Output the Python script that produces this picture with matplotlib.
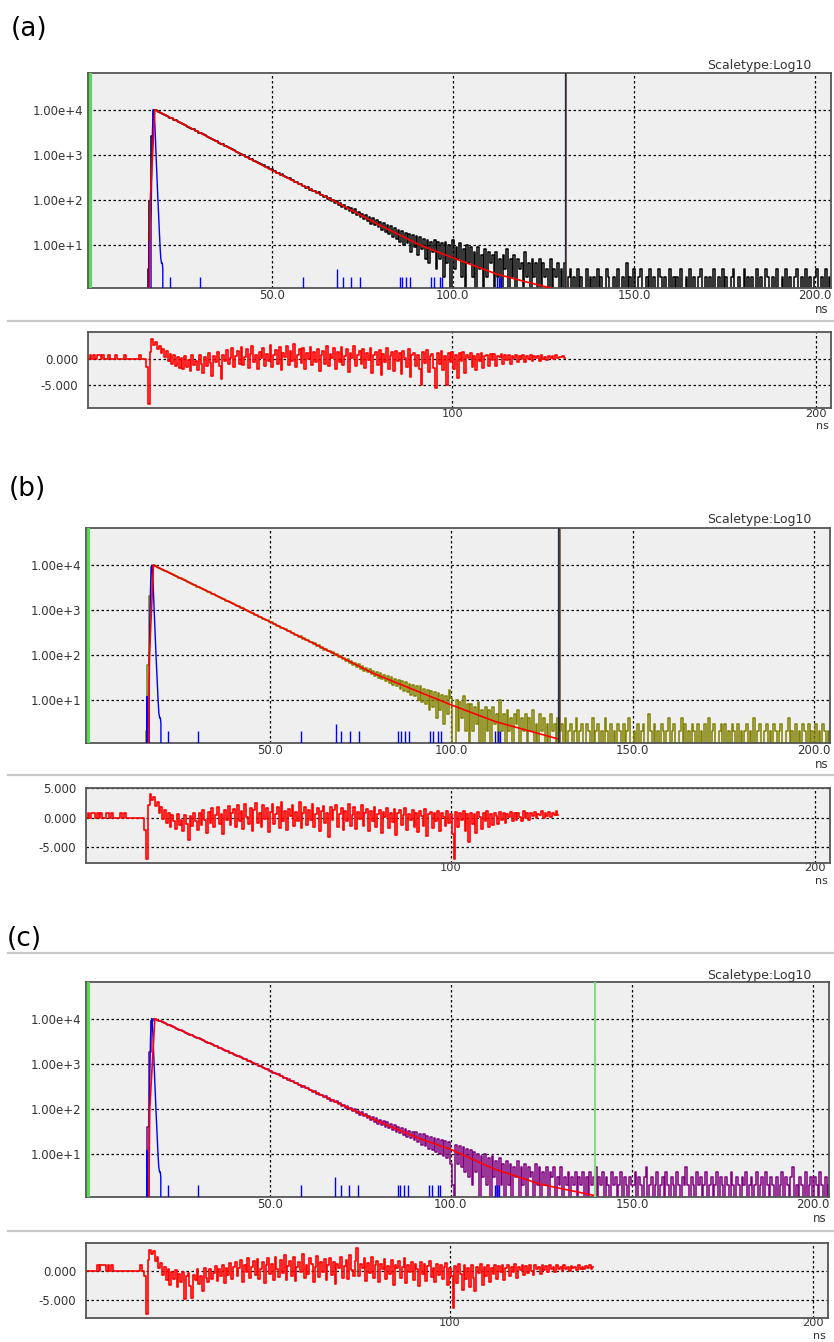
import numpy as np
import matplotlib
matplotlib.use("Agg")
from matplotlib import pyplot
from matplotlib.lines import Line2D

# ---- data ---------------------------------------------------------------
BIN = 0.5          # ns per channel of the lists below
DECAY_T0 = 15.5    # ns of the first decay channel
RESID_T0 = 0.0     # ns of the first residual channel

# decay counts, panel (a) (black)
decay_a = [
    0, 3, 95, 2600, 9700, 9810, 9290, 8850, 8500, 8120,
    7690, 7400, 6990, 6650, 6420, 6050, 5830, 5570, 5260, 5090,
    4790, 4610, 4350, 4200, 3960, 3780, 3650, 3430, 3310, 3120,
    3020, 2880, 2710, 2620, 2470, 2390, 2240, 2170, 2040, 1980,
    1850, 1770, 1720, 1610, 1560, 1490, 1400, 1360, 1270, 1240,
    1150, 1120, 1070, 990, 980, 905, 890, 830, 810, 745,
    740, 705, 650, 640, 590, 585, 540, 530, 490, 485,
    445, 440, 405, 400, 365, 368, 335, 330, 305, 300,
    276, 275, 250, 252, 228, 230, 209, 205, 188, 190,
    170, 175, 155, 158, 141, 147, 128, 131, 116, 121,
    104, 112, 95, 101, 85, 94, 78, 86, 70, 79,
    64, 71, 58, 67, 51, 62, 47, 55, 43, 50,
    37, 46, 34, 42, 29, 39, 28, 36, 25, 33,
    22, 31, 20, 28, 18, 26, 15, 24, 14, 22,
    12, 21, 10, 19, 11, 18, 7, 17, 9, 16,
    6, 15, 8, 14, 5, 13, 4, 12, 7, 13,
    3, 12, 5, 11, 2, 12, 4, 10, 1, 13,
    3, 9, 5, 11, 2, 8, 0, 10, 4, 9,
    2, 7, 1, 9, 3, 6, 0, 8, 2, 7,
    4, 6, 1, 7, 2, 5, 0, 6, 3, 8,
    1, 5, 2, 6, 0, 5, 3, 4, 1, 7,
    2, 4, 0, 5, 2, 4, 1, 5, 0, 4,
    2, 3, 1, 5, 0, 3, 2, 4, 1, 3,
    0, 4, 1, 2, 3, 0, 2, 1, 3, 0,
    2, 1, 0, 3, 1, 2, 0, 2, 1, 3,
    0, 2, 1, 0, 3, 2, 0, 1, 2, 0,
    3, 1, 0, 2, 1, 4, 0, 2, 1, 3,
    1, 0, 2, 3, 0, 1, 2, 0, 3, 1,
    2, 0, 1, 3, 2, 0, 2, 1, 0, 3,
    0, 2, 1, 2, 0, 3, 1, 0, 2, 1,
    3, 0, 2, 1, 0, 2, 3, 1, 0, 2,
    1, 2, 0, 3, 1, 0, 2, 1, 3, 0,
    2, 1, 0, 2, 3, 1, 0, 2, 1, 0,
    3, 0, 2, 1, 2, 0, 1, 3, 0, 2,
    1, 0, 3, 2, 0, 1, 2, 0, 3, 1,
    0, 2, 1, 3, 0, 2, 1, 0, 2, 3,
    1, 0, 2, 1, 3, 0, 2, 1, 0, 2,
    3, 1, 0, 2, 1, 3, 0, 2, 1,
]

# decay counts, panel (b) (olive)
decay_b = [
    0, 2, 60, 2100, 9200, 9900, 9480, 9070, 8660, 8300,
    7950, 7540, 7260, 6890, 6640, 6300, 6070, 5760, 5550, 5260,
    5080, 4800, 4640, 4390, 4250, 4010, 3880, 3670, 3550, 3350,
    3250, 3060, 2970, 2800, 2710, 2560, 2480, 2340, 2270, 2140,
    2075, 1950, 1900, 1785, 1735, 1630, 1590, 1490, 1450, 1360,
    1330, 1240, 1215, 1135, 1110, 1035, 1015, 945, 930, 860,
    850, 782, 775, 712, 706, 650, 645, 592, 590, 540,
    538, 492, 491, 448, 447, 408, 409, 372, 373, 338,
    341, 308, 311, 280, 284, 255, 259, 232, 236, 211,
    216, 193, 198, 175, 181, 160, 165, 146, 151, 132,
    138, 120, 126, 109, 116, 99, 106, 90, 97, 82,
    88, 73, 81, 66, 74, 60, 68, 55, 62, 49,
    57, 45, 52, 41, 48, 37, 45, 34, 41, 31,
    39, 29, 36, 26, 34, 24, 32, 22, 30, 20,
    28, 18, 27, 16, 25, 15, 23, 13, 22, 12,
    21, 10, 20, 9, 18, 8, 17, 6, 16, 7,
    15, 4, 14, 6, 13, 3, 12, 5, 17, 11,
    1, 0, 10, 2, 9, 4, 12, 2, 8, 0,
    8, 2, 7, 3, 9, 1, 6, 0, 7, 2,
    6, 0, 7, 3, 5, 1, 10, 2, 5, 0,
    6, 2, 4, 0, 5, 3, 6, 1, 4, 2,
    5, 0, 4, 2, 6, 1, 3, 0, 5, 2,
    4, 1, 3, 0, 5, 2, 3, 1, 4, 2,
    3, 1, 4, 0, 2, 3, 1, 2, 4, 0,
    2, 3, 0, 1, 3, 2, 0, 4, 1, 2,
    3, 0, 2, 1, 4, 2, 0, 3, 1, 2,
    0, 3, 2, 1, 3, 0, 2, 4, 1, 0,
    2, 1, 3, 0, 2, 3, 1, 0, 5, 2,
    1, 3, 0, 2, 1, 3, 2, 0, 2, 4,
    0, 2, 3, 1, 0, 2, 4, 1, 3, 0,
    2, 1, 3, 2, 0, 3, 1, 2, 0, 3,
    1, 4, 0, 2, 3, 1, 0, 2, 3, 1,
    3, 0, 2, 1, 3, 2, 0, 3, 1, 2,
    0, 2, 3, 1, 2, 0, 4, 1, 2, 3,
    1, 0, 2, 3, 1, 2, 0, 3, 2, 0,
    2, 3, 1, 0, 2, 4, 1, 2, 0, 3,
    1, 2, 0, 3, 2, 1, 3, 0, 2, 1,
    3, 0, 2, 1, 3, 2, 0, 2, 1,
]

# decay counts, panel (c) (purple)
decay_c = [
    0, 1, 40, 1800, 8700, 9900, 9820, 9430, 9060, 8690,
    8360, 7960, 7690, 7330, 7080, 6740, 6520, 6200, 6000, 5710,
    5520, 5250, 5080, 4830, 4680, 4440, 4310, 4090, 3970, 3760,
    3650, 3460, 3360, 3180, 3095, 2930, 2850, 2695, 2625, 2480,
    2420, 2280, 2225, 2095, 2050, 1930, 1890, 1775, 1740, 1630,
    1600, 1500, 1475, 1380, 1360, 1270, 1250, 1165, 1150, 1072,
    1062, 988, 975, 902, 895, 826, 820, 756, 752, 692,
    690, 634, 633, 580, 581, 531, 533, 486, 488, 445,
    448, 408, 410, 373, 377, 341, 346, 312, 317, 286,
    291, 261, 267, 239, 244, 218, 224, 199, 206, 183,
    189, 167, 174, 152, 159, 139, 147, 127, 135, 116,
    123, 106, 113, 97, 105, 88, 97, 81, 90, 74,
    83, 68, 77, 62, 71, 57, 66, 52, 61, 47,
    57, 44, 53, 40, 50, 37, 46, 34, 43, 31,
    40, 29, 38, 26, 36, 24, 33, 22, 31, 20,
    30, 18, 28, 16, 27, 15, 25, 13, 24, 12,
    22, 11, 21, 10, 20, 9, 19, 8, 18, 6,
    2, 1, 16, 6, 15, 5, 14, 4, 13, 3,
    12, 2, 11, 4, 10, 1, 9, 3, 10, 2,
    8, 1, 9, 3, 7, 0, 8, 2, 6, 1,
    7, 2, 6, 0, 5, 3, 7, 1, 5, 2,
    6, 1, 5, 3, 4, 0, 6, 2, 5, 1,
    4, 2, 5, 0, 4, 3, 5, 1, 3, 2,
    5, 1, 3, 2, 4, 0, 3, 2, 4, 1,
    3, 2, 4, 0, 3, 1, 4, 2, 3, 5,
    1, 3, 2, 4, 0, 3, 2, 1, 4, 2,
    3, 0, 2, 4, 1, 3, 2, 0, 3, 2,
    2, 4, 1, 3, 2, 0, 3, 5, 1, 2,
    3, 1, 2, 4, 0, 2, 3, 1, 4, 2,
    1, 3, 2, 0, 4, 2, 1, 3, 2, 5,
    2, 0, 3, 2, 1, 4, 2, 3, 0, 2,
    4, 1, 2, 3, 0, 2, 4, 1, 3, 2,
    0, 3, 2, 1, 4, 2, 0, 3, 2, 1,
    3, 2, 4, 0, 2, 3, 1, 2, 4, 0,
    2, 3, 1, 4, 2, 0, 3, 2, 1, 3,
    0, 2, 4, 1, 3, 2, 0, 3, 5, 1,
    2, 0, 3, 2, 1, 4, 0, 2, 3, 1,
    3, 2, 0, 4, 2, 1, 3, 0, 2,
]

# fitted curve vertices (ns, counts)
fit_a_t = [16.2, 16.5, 17.75, 30.0, 50.0, 66.9, 79.7, 91.0, 100.0, 112.0, 120.0, 128.0, 131.0]
fit_a_c = [0.5, 100, 10000, 3162, 457, 98, 28, 10, 5.25, 2.3, 1.55, 1.07, 0.95]
fit_b_t = [16.5, 16.8, 17.9, 43.5, 68.5, 78.3, 100.0, 112.2, 129.6]
fit_b_c = [0.5, 100, 10000, 1000, 100, 39.8, 7.76, 3.3, 1.35]
fit_c_t = [16.6, 16.9, 18.3, 46.0, 72.3, 80.6, 91.7, 100.0, 112.0, 125.0, 139.5]
fit_c_c = [0.5, 100, 10000, 1000, 100, 50.1, 21.4, 12.6, 4.6, 2.1, 1.2]

# instrument response (blue), same in every panel
irf_t = [15.9, 16.1, 16.25, 16.4, 16.7, 16.9, 17.1, 17.3, 17.45, 17.6, 17.8, 18.0,
         18.2, 18.4, 18.6, 18.8, 19.0, 19.2, 19.4, 19.6, 19.8, 19.95, 20.1]
irf_c = [0, 12, 0, 0, 30, 500, 3500, 9000, 10000, 8000, 4000, 1500,
         600, 250, 100, 45, 20, 9, 5, 4, 4, 3, 0]
irf_spike_t = [21.8, 30.1, 58.6, 68.1, 69.7, 72.0, 74.5, 85.4, 86.0, 87.2, 88.3,
               94.1, 94.9, 96.4, 97.1, 112.1, 112.8, 113.4]
irf_spike_c = [2, 2, 2, 3, 2, 2, 2, 2, 2, 2, 2, 2, 2, 2, 2, 2, 2, 2]

# weighted residuals
resid_a = [
    0, 0.8, 0, 0.8, 0, 0.8, 0.8, 0, 0.8, 0, 0, 0.8, 0, 0, 0, 0.8,
    0, 0, 0, 0, 0.8, 0, 0, 0, 0, 0, 0, 0, 0.8, 0, 0, 0,
    -1.5, -8.6, 1.5, 3.9, 2.8, 3.4, 1.9, 2.6, 1.2, 2.0,
    0.4, 1.6, -0.3, 1.1, -0.8, 0.9, -1.2, 0.5, -1.6, 0.3,
    -1.9, 0.6, -1.4, -0.2, -2.3, 0.8, -1.1, -0.4, -2.0, 0.9,
    -0.9, -2.6, 0.4, -1.3, 1.2, -0.7, -3.1, 0.6, -0.5, 1.4,
    -1.2, -3.8, 0.9, -0.4, 1.8, -0.9, 0.3, 2.1, -1.5, 0.6,
    1.7, -0.8, 2.4, -1.1, 0.5, 1.9, -1.7, 1.0, 2.6, -0.6,
    0.8, -1.9, 1.5, 0.2, 2.2, -1.2, 1.1, -0.3, 2.7, -1.4,
    0.9, 1.8, -0.9, 2.3, -2.1, 1.2, 0.4, 2.5, -1.0, 1.6,
    -0.4, 2.9, -1.5, 0.8, 1.9, -0.7, 2.2, -1.8, 1.3, 0.1,
    2.4, -1.1, 1.5, -0.5, 2.0, -2.2, 0.9, 1.7, -0.8, 2.6,
    -1.3, 1.1, 0.3, 2.1, -1.9, 1.4, -0.6, 2.3, -1.0, 0.7,
    1.9, -2.4, 1.2, 0.2, 2.5, -1.3, 0.8, 1.6, -0.9, 2.0,
    -1.7, 1.3, -0.2, 2.2, -2.6, 0.9, 1.5, -1.1, 1.8, -3.0,
    1.0, -0.6, 2.1, -1.8, 0.7, 1.4, -2.3, 1.6, -0.4, 1.2,
    -2.8, 1.7, 0.3, -1.5, 1.9, -3.4, 0.8, 1.3, -1.2, 0.9,
    -1.9, -5.0, 1.4, -0.7, 1.8, -2.4, 0.6, 1.1, -1.6, -5.5,
    1.2, -0.9, 1.6, -2.0, 0.7, -5.0, 1.3, -0.5, 1.5, -1.8,
    0.9, -3.6, 1.2, -0.4, 1.4, -2.6, 0.8, 0.2, 1.3, -1.4,
    0.7, -2.1, 1.1, -0.3, 1.2, -1.6, 0.6, 0.9, -1.2, 1.0,
    -0.2, 1.1, -1.3, 0.7, 0.4, 1.0, -0.9, 0.8, -0.1, 0.9,
    -0.8, 0.6, 0.2, 0.9, -0.6, 0.7, 0.0, 0.8, -0.5, 0.6,
    0.1, 0.8, -0.4, 0.7, 0.2, 0.6, -0.3, 0.8, 0.1, 0.5,
    -0.2, 0.7, 0.3, 0.6, 0.0, 0.8, 0.2, 0.5, 0.4, 0.7, 0.3,
]
resid_b = [
    0, 0.9, 0, 0.9, 0.9, 0, 0.9, 0, 0.9, 0, 0, 0.9, 0.9, 0, 0.9, 0,
    0, 0, 0, 0.9, 0, 0.9, 0, 0, 0, 0, 0, 0, 0, 0, 0, 0,
    -2.0, -7.0, 2.2, 4.0, 3.1, 3.6, 2.0, 2.7, 0.9, 1.8,
    -0.2, 1.3, -0.9, 0.8, -1.5, 0.4, -0.6, -1.9, 0.7, -1.2,
    -0.3, -2.2, 0.5, -1.0, -3.8, 0.3, -1.4, 0.9, -0.6, -2.1,
    0.8, -1.2, 1.3, -0.4, -2.5, 1.0, -0.8, 1.6, -1.5, 0.5,
    1.9, -1.1, 0.6, -2.7, 1.4, -0.3, 2.0, -1.2, 0.9, 1.5,
    -1.6, 2.2, -0.5, 1.1, -1.9, 2.4, 0.2, -1.0, 1.7, -2.2,
    1.3, 2.5, -0.8, 0.9, -1.5, 2.1, -0.2, 1.6, -2.4, 1.0,
    2.3, -1.1, 0.7, 1.8, -1.7, 2.6, -0.6, 1.2, -2.0, 1.5,
    0.3, 2.2, -1.4, 1.0, -0.5, 2.7, -1.8, 0.8, 1.9, -1.2,
    1.4, -0.3, 2.3, -1.6, 0.6, 1.7, -2.2, 1.1, 2.0, -0.9,
    0.9, -3.2, 1.8, -0.4, 1.3, 2.2, -1.5, 0.7, 1.6, -2.0,
    1.2, -0.6, 2.4, -1.3, 0.5, 1.8, -1.9, 1.0, -0.2, 2.1,
    -1.4, 0.8, 1.5, -2.3, 1.1, -0.5, 1.9, -1.6, 0.6, 1.3,
    -2.6, 1.0, 0.2, 1.7, -1.8, 0.9, -0.7, 1.5, -2.9, 0.8,
    1.3, -1.2, 0.4, 1.6, -2.0, 0.7, -0.3, 1.4, -1.5, 0.9,
    -2.4, 1.1, 0.3, -1.3, 1.5, -3.0, 0.6, 1.0, -1.7, 0.8,
    -0.6, 1.2, -2.2, 0.9, 0.1, -1.4, 1.1, -0.8, 0.7, -2.8,
    -7.0, 1.0, -1.6, 0.8, -0.4, 1.2, -2.3, 0.6, -4.1, 0.9,
    -1.1, 0.7, -2.6, 1.0, 0.2, -1.9, 0.8, -0.5, 1.1, -1.5,
    0.6, -1.2, 0.9, 0.3, -1.0, 1.0, -0.4, 0.8, -0.9, 0.7,
    0.1, 1.0, -0.6, 0.8, -0.3, 0.9, 0.2, -0.5, 1.1, 0.0,
    0.8, -0.3, 0.9, 0.3, 1.0, -0.1, 0.7, 0.4, 1.1, 0.0,
    0.8, 0.3, 1.0, 0.1, 0.9, 0.4, 1.2, 0.5,
]
resid_c = [
    0, 0, 0, 0, 0, 0, 0.9, 0, 0.9, 0.9, 0.9, 0, 0.9, 0, 0.9, 0,
    0, 0, 0, 0, 0, 0, 0, 0, 0, 0, 0, 0, 0, 0, 0.9, 0,
    -1.0, -7.4, 1.8, 3.6, 2.9, 3.3, 1.6, 2.4, 0.5, 1.3,
    -0.8, 0.6, -1.7, 0.2, -2.4, -0.3, -1.4, 0.1, -2.8, -0.6,
    -1.9, -0.2, -4.8, -1.0, -0.4, -2.6, -4.7, -0.8, -1.6, 0.2,
    -2.3, -0.9, -3.5, 0.4, -1.2, -2.0, 0.3, -1.5, -0.4, 0.8,
    -1.8, 0.2, -0.9, 1.0, -2.2, 0.5, -0.7, 1.3, -1.4, 0.6,
    1.5, -1.0, 0.4, 1.8, -1.9, 0.9, -0.3, 2.1, -1.2, 0.7,
    1.6, -0.8, 2.0, -1.5, 0.3, 1.4, -2.1, 1.0, 2.2, -0.6,
    1.1, -1.7, 2.4, 0.2, -1.1, 1.8, -0.4, 2.6, -1.6, 0.8,
    1.7, -0.9, 2.3, -1.8, 0.6, 1.5, -0.2, 2.8, -1.3, 1.0,
    -0.5, 2.1, 1.2, -1.9, 0.7, 2.5, -1.1, 1.4, -0.3, 2.0,
    -1.6, 0.9, 2.2, -0.8, 1.5, -2.3, 1.1, 0.4, 2.4, -1.2,
    0.8, 1.9, -1.5, 2.6, 0.1, -0.9, 1.7, 3.9, -1.0, 1.2,
    0.5, 2.1, -1.8, 1.3, -0.4, 2.3, -1.2, 0.9, 1.6, -2.0,
    1.1, 0.3, 2.0, -1.4, 0.8, -0.6, 1.8, -2.5, 1.0, 0.4,
    1.7, -1.3, 0.6, 2.1, -2.2, 0.9, -0.2, 1.5, -1.7, 1.2,
    0.3, -2.6, 1.4, -0.5, 1.1, -1.8, 0.8, 1.6, -1.1, 0.5,
    -2.0, 1.2, -0.7, 1.0, -1.5, 0.6, 1.3, -2.4, 0.4, -1.0,
    -6.5, 0.8, -2.2, 1.1, -0.6, -3.4, 0.9, -1.5, 0.5, -2.8,
    1.0, -1.2, -3.5, 0.7, -0.4, 1.1, -2.4, 0.6, -1.0, 0.9,
    -1.9, 0.5, -0.6, 1.0, -1.4, 0.8, -0.3, 0.9, -1.6, 0.4,
    1.0, -0.9, 0.7, -0.2, 1.1, -1.2, 0.6, 0.1, 0.9, -0.8,
    0.8, -0.4, 1.0, 0.0, -0.7, 0.9, 0.2, 0.7, -0.5, 1.0,
    0.1, 0.8, -0.3, 0.9, 0.3, 0.6, -0.2, 1.0, 0.2, 0.7,
    0.0, 0.9, 0.3, 0.6, -0.1, 0.8, 0.4, 0.7, 0.1, 0.9,
    0.3, 0.7, 0.2, 0.8, 0.4, 0.9, 0.3, 0.6,
]

# end of fit range cursor (ns)
fit_end = [131.0, 129.6, 139.9]

main_xticks = [50, 100, 150, 200]
main_xlabels = ["50.0", "100.0", "150.0", "200.0"]
main_yticks = [1e1, 1e2, 1e3, 1e4]
main_ylabels = ["1.00e+1", "1.00e+2", "1.00e+3", "1.00e+4"]
res_xticks = [100, 200]
res_xlabels = ["100", "200"]

# ---- layout (pixel boxes: left, top, right, bottom) ---------------------
W, H = 834, 1342
panels = [
    dict(tag="(a)", tag_xy=(11, 29), color="#000000", decay=decay_a,
         fit_t=fit_a_t, fit_c=fit_a_c, resid=resid_a, end=fit_end[0], cursor="ab",
         main=(88, 72.7, 831, 288), res=(88, 332.3, 831, 408.3),
         res_ylim=(-9.4, 5.2), res_ticks=[0, -5], scale_y=66, seps=[320.7]),
    dict(tag="(b)", tag_xy=(9, 489), color="#808000", decay=decay_b,
         fit_t=fit_b_t, fit_c=fit_b_c, resid=resid_b, end=fit_end[1], cursor="ab",
         main=(86, 528.3, 830, 742.7), res=(86, 788.3, 830, 862.7),
         res_ylim=(-7.6, 5.0), res_ticks=[5, 0, -5], scale_y=520, seps=[775]),
    dict(tag="(c)", tag_xy=(7, 939), color="#800080", decay=decay_c,
         fit_t=fit_c_t, fit_c=fit_c_c, resid=resid_c, end=fit_end[2], cursor="c",
         main=(86, 981.7, 829, 1196.7), res=(86, 1242.7, 828, 1317.7),
         res_ylim=(-8.1, 4.8), res_ticks=[0, -5], scale_y=975, seps=[952.7, 1230.7]),
]

pyplot.rcParams["font.family"] = ["DejaVu Sans"]
pyplot.rcParams["path.simplify"] = False

fig = pyplot.figure(figsize=(W / 100, H / 100), dpi=100)
fig.patch.set_facecolor("white")


def px_axes(box):
    l, t, r, b = box
    return fig.add_axes([l / W, 1 - b / H, (r - l) / W, (b - t) / H])


def style(ax):
    ax.set_facecolor("#efefef")
    for s in ax.spines.values():
        s.set_color("#555555")
        s.set_linewidth(1.3)
    ax.tick_params(length=0, labelsize=8.5, labelcolor="#333333")
    ax.grid(True, color="black", linestyle=(0, (2, 2)), linewidth=0.9)
    ax.set_axisbelow(True)


for p in panels:
    # panel tag and separators
    fig.text(p["tag_xy"][0] / W, 1 - p["tag_xy"][1] / H, p["tag"],
             fontsize=19, ha="left", va="center")
    for y in p["seps"]:
        fig.add_artist(Line2D([8 / W, 1.0], [1 - y / H] * 2, color="#c8c8c8", lw=1.6))

    # ---- decay panel
    ax = px_axes(p["main"])
    style(ax)
    ax.set_yscale("log", nonpositive="clip")
    t = DECAY_T0 + BIN * np.arange(len(p["decay"]))
    ax.plot(t, p["decay"], drawstyle="steps-mid", color=p["color"], lw=1.1, zorder=2)
    ax.plot(irf_t, irf_c, color="#0000ff", lw=1.0, zorder=3)
    ax.vlines(irf_spike_t, 0.5, irf_spike_c, color="#0000ff", lw=1.0, zorder=3)
    ax.plot(p["fit_t"], p["fit_c"], color="#ff0000", lw=1.2, zorder=4)
    ax.axvline(-0.25, color="#5cd65c", lw=2.2, zorder=5)
    if p["cursor"] == "ab":
        ax.axvline(p["end"] - 0.15, color="#4060c0", lw=1.0, zorder=5)
        ax.axvline(p["end"] + 0.12, color="#262626", lw=1.2, zorder=5)
        ax.axvline(p["end"] + 0.38, color="#7a5a48", lw=0.6, zorder=5)
    else:
        ax.axvline(p["end"], color="#80e080", lw=1.5, zorder=5)
    ax.set_xlim(-0.7, 204.4)
    ax.set_ylim(10 ** 0.05, 10 ** 4.82)
    ax.set_xticks(main_xticks)
    ax.set_xticklabels(main_xlabels)
    ax.set_yticks(main_yticks)
    ax.set_yticklabels(main_ylabels)
    ax.yaxis.set_minor_locator(matplotlib.ticker.NullLocator())
    ax.tick_params(axis="x", pad=1.0)
    ax.tick_params(axis="y", pad=3.5)
    l, tp, r, b = p["main"]
    fig.text(812 / W, 1 - p["scale_y"] / H, "Scaletype:Log10", fontsize=9,
             color="#333333", ha="right", va="center")
    fig.text((r - 2) / W, 1 - (b + 21.5) / H, "ns", fontsize=8.5, color="#333333",
             ha="right", va="center")

    # ---- residual panel
    rx = px_axes(p["res"])
    style(rx)
    tr = RESID_T0 + BIN * np.arange(len(p["resid"]))
    rx.plot(tr, p["resid"], drawstyle="steps-mid", color="#ff0000", lw=1.2)
    rx.set_xlim(-0.2, 204.1)
    rx.set_ylim(*p["res_ylim"])
    rx.set_xticks(res_xticks)
    rx.set_xticklabels(res_xlabels)
    rx.set_yticks(p["res_ticks"])
    rx.set_yticklabels(["%.3f" % v for v in p["res_ticks"]])
    rx.tick_params(axis="x", pad=0.5, labelsize=8.2)
    rx.tick_params(axis="y", pad=7)
    l, tp, r, b = p["res"]
    fig.text((r - 2) / W, 1 - (b + 18) / H, "ns", fontsize=8, color="#333333",
             ha="right", va="center")

fig.savefig("out.png", dpi=100)
